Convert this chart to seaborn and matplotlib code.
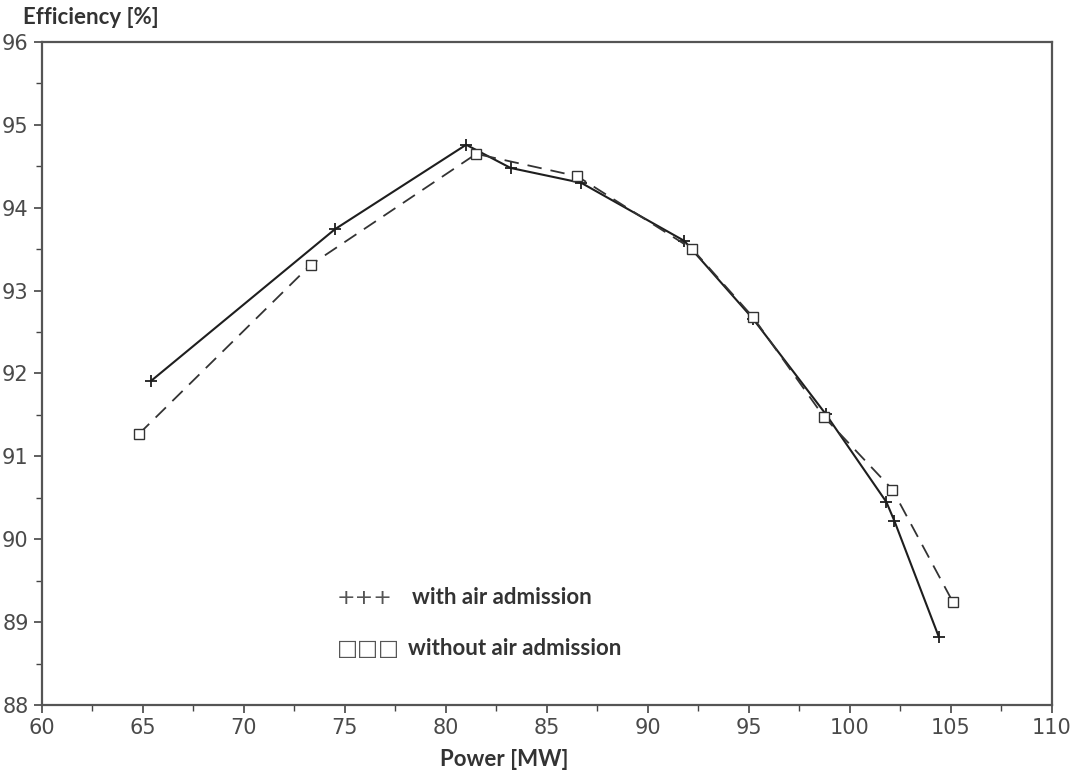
import numpy as np
import pandas as pd
import matplotlib
matplotlib.use('Agg')
import matplotlib.pyplot as plt
from matplotlib.ticker import MultipleLocator
import seaborn as sns

# data
power_with = [65.4, 74.5, 81.0, 83.2, 86.7, 91.8, 95.2, 98.8, 101.8, 102.2, 104.4]
eff_with = [91.91, 93.74, 94.76, 94.48, 94.30, 93.60, 92.66, 91.51, 90.45, 90.22, 88.82]

power_without = [64.8, 73.3, 81.5, 86.5, 92.2, 95.2, 98.7, 102.1, 105.1]
eff_without = [91.27, 93.31, 94.65, 94.38, 93.50, 92.68, 91.48, 90.60, 89.24]

x_ticks = [60, 65, 70, 75, 80, 85, 90, 95, 100, 105, 110]
y_ticks = [88, 89, 90, 91, 92, 93, 94, 95, 96]

df_with = pd.DataFrame({'power': power_with, 'eff': eff_with})
df_without = pd.DataFrame({'power': power_without, 'eff': eff_without})

sns.set_style('ticks')
plt.rcParams['font.family'] = ['DejaVu Sans']

fig = plt.figure(figsize=(10.75, 7.76), dpi=100)
ax = fig.add_axes([0.039, 0.0915, 0.9396, 0.8544])

line_col = '#1e1e1e'
sns.lineplot(data=df_with, x='power', y='eff', ax=ax, color=line_col, lw=1.5,
             marker='+', markersize=9, markeredgewidth=1.3, markeredgecolor=line_col,
             sort=False)
sns.lineplot(data=df_without, x='power', y='eff', ax=ax, color='#333333', lw=1.3,
             linestyle=(0, (8, 5)), marker='s', markersize=7, markerfacecolor='white',
             markeredgecolor='#333333', markeredgewidth=1.0, sort=False)

ax.set_xlim(60, 110)
ax.set_ylim(88, 96)
ax.set_xticks(x_ticks)
ax.set_yticks(y_ticks)
ax.xaxis.set_minor_locator(MultipleLocator(2.5))
ax.yaxis.set_minor_locator(MultipleLocator(0.5))
ax.tick_params(which='major', length=6, width=1.2, color='#444444', labelcolor='#4a4a4a',
               labelsize=15)
ax.tick_params(which='minor', length=4, width=1.0, color='#444444')
for s in ax.spines.values():
    s.set_visible(True)
    s.set_linewidth(1.6)
    s.set_color('#555555')

ax.set_xlabel('')
ax.set_ylabel('')
label_font = ['Lato', 'DejaVu Sans']
fig.text(0.469, 0.021, 'Power [MW]', ha='center', va='center', fontsize=16,
         fontweight='bold', color='#333333', family=label_font)
fig.text(0.021, 0.977, 'Efficiency [%]', ha='left', va='center', fontsize=16,
         fontweight='bold', color='#333333', family=label_font)

# legend written as text, like the original
ax.text(0.292, 0.162, '+++', transform=ax.transAxes, fontsize=16, color='#555555',
        va='center', ha='left')
ax.text(0.366, 0.162, 'with air admission', transform=ax.transAxes, fontsize=16,
        fontweight='bold', color='#333333', va='center', ha='left', family=label_font)
ax.text(0.292, 0.085, '\u25a1\u25a1\u25a1', transform=ax.transAxes, fontsize=16,
        color='#555555', va='center', ha='left')
ax.text(0.362, 0.085, 'without air admission', transform=ax.transAxes, fontsize=16,
        fontweight='bold', color='#333333', va='center', ha='left', family=label_font)

fig.savefig('out.png', dpi=100, facecolor='white')
